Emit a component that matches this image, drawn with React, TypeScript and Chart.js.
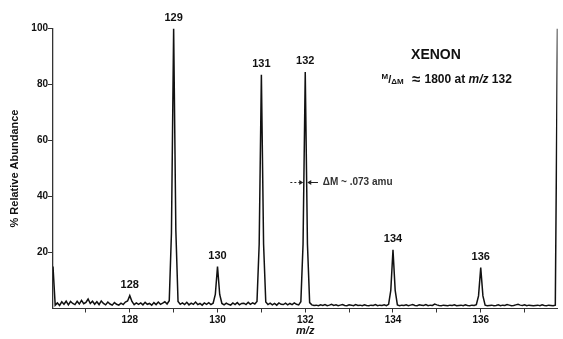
import React, { useEffect, useRef } from "react";
import { Chart, registerables } from "chart.js";

Chart.register(...registerables);

// Spectrum sampled every 0.05 u from m/z 126.25 to 137.75
const mzStart = 126.25;
const mzStep = 0.05;
const abundance = [
  // 126.25 - 127.20
  15, 1.2, 2.0, 1.1, 2.4, 1.5, 2.6, 1.3, 2.5, 1.8,
  1.4, 2.6, 1.6, 2.9, 1.7, 2.2, 3.4, 1.8, 2.6, 1.5,
  // 127.25 - 128.20
  2.4, 1.4, 2.7, 1.8, 1.3, 2.3, 1.6, 1.2, 2.1, 1.5,
  1.2, 1.9, 1.4, 2.3, 2.7, 4.6, 2.5, 1.4, 2.0, 1.5,
  // 128.25 - 129.20
  2.0, 1.3, 2.2, 1.5, 1.8, 1.2, 2.1, 1.4, 2.3, 1.5,
  1.9, 2.4, 1.6, 2.8, 27, 100, 28, 2.5, 1.5, 2.0,
  // 129.25 - 130.20
  1.4, 2.2, 1.3, 1.9, 1.5, 2.3, 1.4, 1.8, 1.2, 2.0,
  1.5, 2.1, 1.4, 1.9, 5, 15, 5, 1.8, 1.3, 1.9,
  // 130.25 - 131.20
  1.5, 1.2, 2.0, 1.4, 2.1, 1.3, 1.8, 1.9, 1.4, 2.2,
  1.5, 2.0, 1.6, 2.5, 23, 83.5, 23, 2.3, 1.4, 1.9,
  // 131.25 - 132.20
  1.3, 1.8, 1.2, 2.0, 1.5, 1.4, 1.9, 1.3, 1.8, 1.4,
  2.0, 1.5, 1.3, 2.4, 23, 84.5, 23, 2.1, 1.3, 1.1,
  // 132.25 - 133.20
  1.2, 1.0, 1.3, 1.1, 1.4, 1.0, 1.2, 1.5, 1.1, 1.3,
  1.0, 1.2, 1.4, 1.1, 1.0, 1.3, 1.2, 1.0, 1.4, 1.1,
  // 133.25 - 134.20
  1.2, 1.0, 1.3, 1.1, 1.0, 1.2, 1.1, 1.4, 1.0, 1.2,
  1.1, 1.3, 1.0, 1.5, 6.5, 21, 6.5, 1.3, 1.0, 1.2,
  // 134.25 - 135.20
  1.1, 1.3, 1.0, 1.2, 1.4, 1.1, 1.0, 1.3, 1.2, 1.1,
  1.4, 1.0, 1.2, 1.1, 1.6, 1.3, 1.1, 1.0, 1.2, 1.1,
  // 135.25 - 136.20
  1.0, 1.2, 1.1, 1.3, 1.0, 1.1, 1.2, 1.0, 1.3, 1.1,
  1.0, 1.2, 1.1, 1.4, 4.5, 14.6, 4.5, 1.2, 1.0, 1.1,
  // 136.25 - 137.20
  1.2, 1.0, 1.1, 1.3, 1.0, 1.2, 1.1, 1.4, 1.2, 1.0,
  1.1, 1.3, 1.5, 1.2, 1.1, 1.3, 1.0, 1.2, 1.1, 1.0,
  // 137.25 - 137.75
  1.1, 1.2, 1.0, 1.3, 1.1, 1.0, 1.2, 1.1, 1.0, 1.2,
  100,
];

const peakMasses = [128, 129, 130, 131, 132, 134, 136];
const peakHeights = [4.6, 100, 15, 83.5, 84.5, 21, 14.6];
const peakLabels = ["128", "129", "130", "131", "132", "134", "136"];

const yTickValues = [20, 40, 60, 80, 100];
const xTickValues = [127, 128, 129, 130, 131, 132, 133, 134, 135, 136, 137];
const xLabelValues = [128, 130, 132, 134, 136];

const elementName = "XENON";
const resolution = "1800";
const resolutionMass = "132";
const deltaMText = "\u0394M ~ .073 amu";
const deltaMLevel = 45;
const deltaMMass = 132;

const FONT = '"Liberation Sans", Arial, Helvetica, sans-serif';

const annotationPlugin = {
  id: "spectrumAnnotations",
  afterDatasetsDraw(chart: any) {
    const { ctx } = chart;
    const xs = chart.scales.x;
    const ys = chart.scales.y;
    ctx.save();
    ctx.fillStyle = "#111";
    ctx.strokeStyle = "#222";

    // Peak labels
    ctx.textAlign = "center";
    ctx.textBaseline = "middle";
    ctx.font = `bold 11px ${FONT}`;
    peakMasses.forEach((m, i) => {
      const px = xs.getPixelForValue(m);
      const py = ys.getPixelForValue(peakHeights[i]) - 10.5;
      ctx.fillText(peakLabels[i], px, py);
    });

    // XENON
    ctx.font = `bold 14px ${FONT}`;
    ctx.fillText(elementName, xs.getPixelForValue(134.98), ys.getPixelForValue(90.5));

    // M/ΔM ≈ 1800 at m/z 132
    const pieces = [
      { t: "M", f: `bold 8px ${FONT}`, dy: -3 },
      { t: "/", f: `bold 11px ${FONT}`, dy: 0 },
      { t: "\u0394M", f: `bold 8px ${FONT}`, dy: 2 },
      { t: "  \u2248 ", f: `bold 15px ${FONT}`, dy: 0 },
      { t: resolution + " at ", f: `bold 12px ${FONT}`, dy: 0 },
      { t: "m/z", f: `italic bold 12px ${FONT}`, dy: 0 },
      { t: " " + resolutionMass, f: `bold 12px ${FONT}`, dy: 0 },
    ];
    let total = 0;
    const widths = pieces.map((p) => {
      ctx.font = p.f;
      const w = ctx.measureText(p.t).width;
      total += w;
      return w;
    });
    let cx = xs.getPixelForValue(136.71) - total;
    const cy = ys.getPixelForValue(81.6);
    ctx.textAlign = "left";
    pieces.forEach((p, i) => {
      ctx.font = p.f;
      ctx.fillText(p.t, cx, cy + p.dy);
      cx += widths[i];
    });

    // ΔM arrows and text
    const ay = ys.getPixelForValue(deltaMLevel);
    const lStart = xs.getPixelForValue(deltaMMass - 0.34);
    const lTip = xs.getPixelForValue(deltaMMass - 0.045);
    const rTip = xs.getPixelForValue(deltaMMass + 0.045);
    const rEnd = xs.getPixelForValue(deltaMMass + 0.29);
    ctx.lineWidth = 1;
    ctx.setLineDash([2, 2]);
    ctx.beginPath();
    ctx.moveTo(lStart, ay);
    ctx.lineTo(lTip - 3, ay);
    ctx.stroke();
    ctx.setLineDash([]);
    ctx.beginPath();
    ctx.moveTo(rEnd, ay);
    ctx.lineTo(rTip + 3, ay);
    ctx.stroke();
    ctx.fillStyle = "#222";
    ctx.beginPath();
    ctx.moveTo(lTip, ay);
    ctx.lineTo(lTip - 4, ay - 2.5);
    ctx.lineTo(lTip - 4, ay + 2.5);
    ctx.closePath();
    ctx.fill();
    ctx.beginPath();
    ctx.moveTo(rTip, ay);
    ctx.lineTo(rTip + 4, ay - 2.5);
    ctx.lineTo(rTip + 4, ay + 2.5);
    ctx.closePath();
    ctx.fill();
    ctx.font = `bold 10px ${FONT}`;
    ctx.fillStyle = "#333";
    ctx.textAlign = "left";
    ctx.fillText(deltaMText, xs.getPixelForValue(deltaMMass + 0.4), ay);

    ctx.restore();
  },
};

export default function App() {
  const canvasRef = useRef<HTMLCanvasElement | null>(null);

  useEffect(() => {
    const canvas = canvasRef.current;
    if (!canvas) return;
    const points = abundance.map((v, i) => ({
      x: Math.round((mzStart + i * mzStep) * 1000) / 1000,
      y: v,
    }));
    const chart = new Chart(canvas, {
      type: "line",
      data: {
        datasets: [
          {
            data: points,
            borderColor: "#111",
            borderWidth: 1.5,
            pointRadius: 0,
            tension: 0,
            fill: false,
          },
        ],
      },
      options: {
        animation: false,
        responsive: false,
        devicePixelRatio: 1,
        layout: { padding: { top: 28.5, right: 5.5, left: 0, bottom: 0 } },
        plugins: {
          legend: { display: false },
          tooltip: { enabled: false },
        },
        scales: {
          x: {
            type: "linear",
            min: 126.25,
            max: 137.75,
            afterBuildTicks: (scale: any) => {
              scale.ticks = xTickValues.map((v) => ({ value: v }));
            },
            afterFit: (scale: any) => {
              scale.height = 30.5;
            },
            ticks: {
              autoSkip: false,
              maxRotation: 0,
              padding: 2,
              color: "#111",
              font: { family: FONT, size: 10, weight: "bold" },
              callback: (v: any) => (xLabelValues.includes(Number(v)) ? String(v) : ""),
            },
            grid: {
              drawOnChartArea: false,
              drawTicks: true,
              tickLength: 4,
              color: "#333",
            },
            border: { display: true, color: "#333", width: 1 },
            title: {
              display: true,
              text: "m/z",
              color: "#111",
              font: { family: FONT, size: 11, weight: "bold", style: "italic" },
              padding: { top: 0, bottom: 1.4 },
            },
          },
          y: {
            type: "linear",
            min: 0,
            max: 100,
            afterBuildTicks: (scale: any) => {
              scale.ticks = yTickValues.map((v) => ({ value: v }));
            },
            afterFit: (scale: any) => {
              scale.width = 53;
            },
            ticks: {
              padding: 0,
              color: "#111",
              font: { family: FONT, size: 10, weight: "bold" },
            },
            grid: {
              drawOnChartArea: false,
              drawTicks: true,
              tickLength: 5,
              color: "#333",
            },
            border: { display: true, color: "#333", width: 1.3 },
            title: {
              display: true,
              text: "% Relative Abundance",
              color: "#111",
              font: { family: FONT, size: 11, weight: "bold" },
              padding: { top: 8.4, bottom: 0 },
            },
          },
        },
      },
      plugins: [annotationPlugin],
    } as any);
    return () => chart.destroy();
  }, []);

  return (
    <div style={{ position: "absolute", left: 0, top: 0, width: 563, height: 339, background: "#fff" }}>
      <canvas ref={canvasRef} width={563} height={339} style={{ width: 563, height: 339, display: "block" }} />
    </div>
  );
}
